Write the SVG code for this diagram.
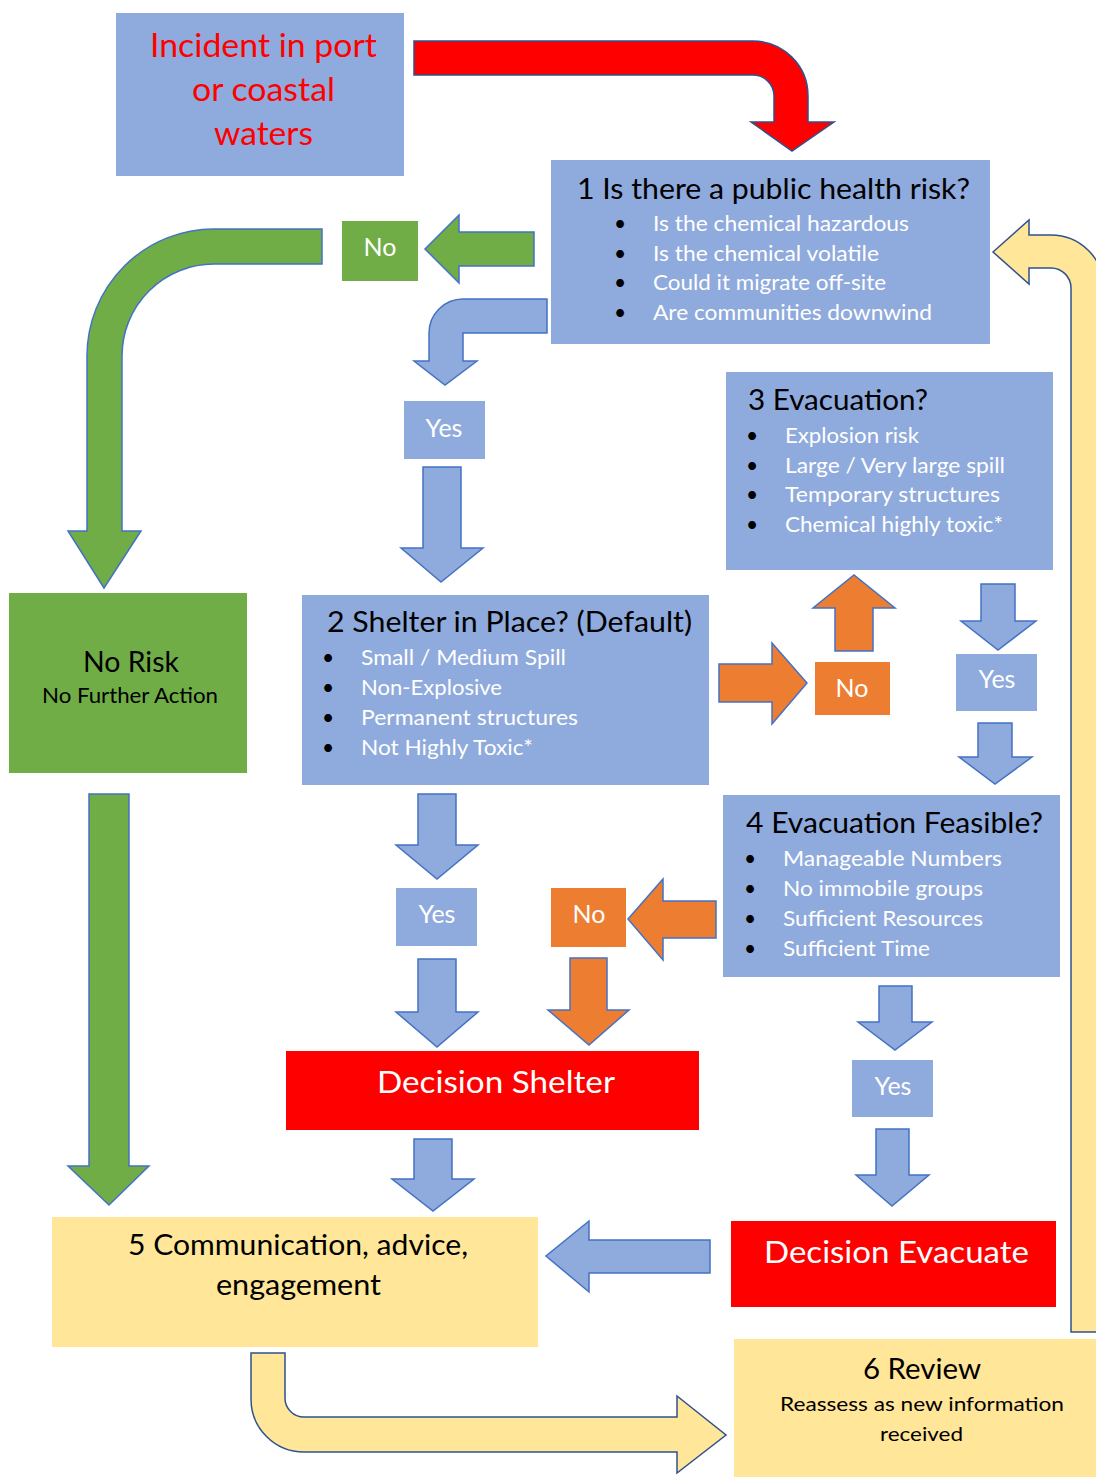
<svg xmlns="http://www.w3.org/2000/svg" width="1096" height="1477" viewBox="0 0 1096 1477">
<style>
text{font-family:Lato,"Liberation Sans",sans-serif}
.blue{fill:#8faadc}
.green{fill:#70ad47}
.orange{fill:#ed7d31}
.red{fill:#ff0000}
.yellow{fill:#ffe699}
.ab{fill:#8faadc;stroke:#4472c4;stroke-width:1.5}
.ag{fill:#70ad47;stroke:#4472c4;stroke-width:1.5}
.ao{fill:#ed7d31;stroke:#4472c4;stroke-width:1.5}
.ar{fill:#ff0000;stroke:#2f528f;stroke-width:1.5}
.ay{fill:#ffe699;stroke:#2f528f;stroke-width:1.5}
.t{fill:#000}
.w{fill:#fff}
.title{font-size:29px}
.item{font-size:21px;fill:#fff}
.dot{font-size:21px;fill:#000}
.lbl{font-size:25px;fill:#fff;text-anchor:middle}
</style>
<rect width="1096" height="1477" fill="#fff"/>
<g id="connectors">
<path class="ar" d="M414,41 H753 A55,55 0 0 1 808,96 V122 H834 L792,151 L751,122 H774 V96 A21,21 0 0 0 753,75 H414 Z"/>
<path class="ay" d="M993,252 L1029,220 V235 H1051 A53,53 0 0 1 1104,288 V1332 H1071 V288 A20,20 0 0 0 1051,268 H1029 V284 Z"/>
<path class="ag" d="M534,232 H459 V215 L425,249 L459,283 V266 H534 Z"/>
<path class="ag" d="M322,229 H214 A127,127 0 0 0 87,356 V531 H68 L104,588 L141,531 H122 V356 A92,92 0 0 1 214,264 H322 Z"/>
<path class="ab" d="M547,299 H463 A34,34 0 0 0 429,333 V361 H414 L445,385 L477,361 H463 V333 H547 Z"/>
<path class="ab" d="M423,467 H461 V548 H483 L441,582 L401,548 H423 Z"/>
<path class="ao" d="M835,651 V608 H813 L854,575 L895,608 H873 V651 Z"/>
<path class="ao" d="M719,664 H772 V643 L807,683 L772,724 V702 H719 Z"/>
<path class="ab" d="M981,584 H1015 V621 H1036 L998,650 L961,621 H981 Z"/>
<path class="ab" d="M978,723 H1012 V757 H1032 L995,784 L959,757 H978 Z"/>
<path class="ao" d="M716,901 H663 V879 L628,919 L663,960 V938 H716 Z"/>
<path class="ao" d="M570,958 H607 V1010 H629 L589,1045 L548,1010 H570 Z"/>
<path class="ab" d="M418,794 H456 V845 H478 L437,879 L396,845 H418 Z"/>
<path class="ab" d="M418,959 H456 V1012 H478 L437,1047 L396,1012 H418 Z"/>
<path class="ab" d="M414,1139 H452 V1179 H474 L433,1211 L392,1179 H414 Z"/>
<path class="ag" d="M89,794 H129 V1166 H149 L109,1205 L68,1166 H89 Z"/>
<path class="ab" d="M879,986 H912 V1022 H932 L895,1050 L858,1022 H879 Z"/>
<path class="ab" d="M876,1129 H909 V1175 H929 L892,1206 L856,1175 H876 Z"/>
<path class="ab" d="M710,1240 H589 V1221 L546,1256 L589,1292 V1273 H710 Z"/>
<path class="ay" d="M251,1353 H285 V1398 A19,19 0 0 0 304,1417 H677 V1396 L726,1435 L677,1473 V1452 H304 A53,53 0 0 1 251,1399 Z"/>
</g>
<g id="incident">
<rect class="blue" x="116" y="13" width="288" height="163"/>
<text x="150" y="57" font-size="32" fill="#ff0000" textLength="227" lengthAdjust="spacingAndGlyphs">Incident in port</text>
<text x="192" y="101" font-size="32" fill="#ff0000" textLength="143" lengthAdjust="spacingAndGlyphs">or coastal</text>
<text x="214" y="145" font-size="32" fill="#ff0000" textLength="99" lengthAdjust="spacingAndGlyphs">waters</text>
</g>
<g id="q1">
<rect class="blue" x="551" y="160" width="439" height="184"/>
<text class="title t" x="577" y="199" textLength="393" lengthAdjust="spacingAndGlyphs">1 Is there a public health risk?</text>
<text class="dot" x="620" y="231" text-anchor="middle">•</text>
<text class="dot" x="620" y="261" text-anchor="middle">•</text>
<text class="dot" x="620" y="290" text-anchor="middle">•</text>
<text class="dot" x="620" y="320" text-anchor="middle">•</text>
<text class="item" x="653" y="231" textLength="256" lengthAdjust="spacingAndGlyphs">Is the chemical hazardous</text>
<text class="item" x="653" y="261" textLength="226" lengthAdjust="spacingAndGlyphs">Is the chemical volatile</text>
<text class="item" x="653" y="290" textLength="233" lengthAdjust="spacingAndGlyphs">Could it migrate off-site</text>
<text class="item" x="653" y="320" textLength="279" lengthAdjust="spacingAndGlyphs">Are communities downwind</text>
</g>
<g id="no1">
<rect class="green" x="342" y="221" width="76" height="60"/>
<text class="lbl" x="380" y="256">No</text>
</g>
<g id="yes1">
<rect class="blue" x="404" y="401" width="81" height="58"/>
<text class="lbl" x="444" y="437">Yes</text>
</g>
<g id="norisk">
<rect class="green" x="9" y="593" width="238" height="180"/>
<text x="83" y="672" font-size="28" class="t" textLength="96" lengthAdjust="spacingAndGlyphs">No Risk</text>
<text x="42" y="703" font-size="21" class="t" textLength="176" lengthAdjust="spacingAndGlyphs">No Further Action</text>
</g>
<g id="q2">
<rect class="blue" x="302" y="595" width="407" height="190"/>
<text class="title t" x="327" y="632" textLength="365" lengthAdjust="spacingAndGlyphs">2 Shelter in Place? (Default)</text>
<text class="dot" x="328" y="665" text-anchor="middle">•</text>
<text class="dot" x="328" y="695" text-anchor="middle">•</text>
<text class="dot" x="328" y="725" text-anchor="middle">•</text>
<text class="dot" x="328" y="755" text-anchor="middle">•</text>
<text class="item" x="361" y="665" textLength="205" lengthAdjust="spacingAndGlyphs">Small / Medium Spill</text>
<text class="item" x="361" y="695" textLength="141" lengthAdjust="spacingAndGlyphs">Non-Explosive</text>
<text class="item" x="361" y="725" textLength="217" lengthAdjust="spacingAndGlyphs">Permanent structures</text>
<text class="item" x="361" y="755" textLength="172" lengthAdjust="spacingAndGlyphs">Not Highly Toxic*</text>
</g>
<g id="q3">
<rect class="blue" x="726" y="372" width="327" height="198"/>
<text class="title t" x="748" y="410" textLength="180" lengthAdjust="spacingAndGlyphs">3 Evacuation?</text>
<text class="dot" x="752" y="443" text-anchor="middle">•</text>
<text class="dot" x="752" y="473" text-anchor="middle">•</text>
<text class="dot" x="752" y="502" text-anchor="middle">•</text>
<text class="dot" x="752" y="532" text-anchor="middle">•</text>
<text class="item" x="785" y="443" textLength="134" lengthAdjust="spacingAndGlyphs">Explosion risk</text>
<text class="item" x="785" y="473" textLength="220" lengthAdjust="spacingAndGlyphs">Large / Very large spill</text>
<text class="item" x="785" y="502" textLength="215" lengthAdjust="spacingAndGlyphs">Temporary structures</text>
<text class="item" x="785" y="532" textLength="218" lengthAdjust="spacingAndGlyphs">Chemical highly toxic*</text>
</g>
<g id="no2">
<rect class="orange" x="815" y="662" width="75" height="53"/>
<text class="lbl" x="852" y="697">No</text>
</g>
<g id="yes2">
<rect class="blue" x="956" y="654" width="81" height="57"/>
<text class="lbl" x="997" y="688">Yes</text>
</g>
<g id="q4">
<rect class="blue" x="723" y="795" width="337" height="182"/>
<text class="title t" x="746" y="833" textLength="297" lengthAdjust="spacingAndGlyphs">4 Evacuation Feasible?</text>
<text class="dot" x="750" y="866" text-anchor="middle">•</text>
<text class="dot" x="750" y="896" text-anchor="middle">•</text>
<text class="dot" x="750" y="926" text-anchor="middle">•</text>
<text class="dot" x="750" y="956" text-anchor="middle">•</text>
<text class="item" x="783" y="866" textLength="219" lengthAdjust="spacingAndGlyphs">Manageable Numbers</text>
<text class="item" x="783" y="896" textLength="200" lengthAdjust="spacingAndGlyphs">No immobile groups</text>
<text class="item" x="783" y="926" textLength="200" lengthAdjust="spacingAndGlyphs">Sufficient Resources</text>
<text class="item" x="783" y="956" textLength="147" lengthAdjust="spacingAndGlyphs">Sufficient Time</text>
</g>
<g id="yes3">
<rect class="blue" x="396" y="888" width="81" height="58"/>
<text class="lbl" x="437" y="923">Yes</text>
</g>
<g id="no3">
<rect class="orange" x="551" y="888" width="75" height="59"/>
<text class="lbl" x="589" y="923">No</text>
</g>
<g id="shelter">
<rect class="red" x="286" y="1051" width="413" height="79"/>
<text x="377" y="1093" font-size="31" class="w" textLength="238" lengthAdjust="spacingAndGlyphs">Decision Shelter</text>
</g>
<g id="yes4">
<rect class="blue" x="852" y="1060" width="81" height="57"/>
<text class="lbl" x="893" y="1095">Yes</text>
</g>
<g id="evacuate">
<rect class="red" x="731" y="1221" width="325" height="86"/>
<text x="764" y="1263" font-size="30" class="w" textLength="265" lengthAdjust="spacingAndGlyphs">Decision Evacuate</text>
</g>
<g id="comm">
<rect class="yellow" x="52" y="1217" width="486" height="130"/>
<text x="128" y="1255" font-size="28" class="t" textLength="340" lengthAdjust="spacingAndGlyphs">5 Communication, advice,</text>
<text x="216" y="1295" font-size="28" class="t" textLength="165" lengthAdjust="spacingAndGlyphs">engagement</text>
</g>
<g id="review">
<rect class="yellow" x="734" y="1339" width="362" height="138"/>
<text x="863" y="1379" font-size="28" class="t" textLength="118" lengthAdjust="spacingAndGlyphs">6 Review</text>
<text x="780" y="1411" font-size="20" class="t" textLength="284" lengthAdjust="spacingAndGlyphs">Reassess as new information</text>
<text x="880" y="1441" font-size="20" class="t" textLength="83" lengthAdjust="spacingAndGlyphs">received</text>
</g>
</svg>
